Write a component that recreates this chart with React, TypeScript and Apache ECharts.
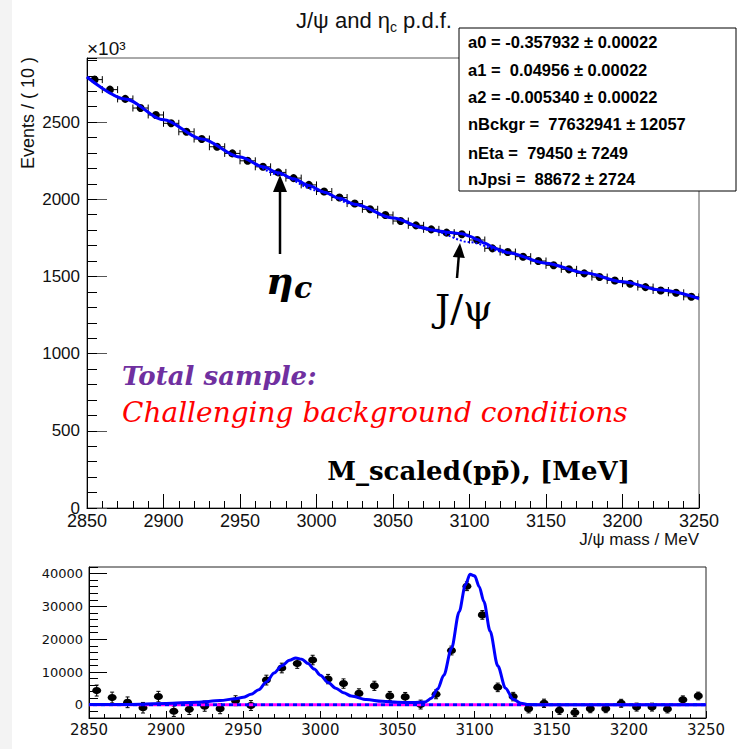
import { useEffect, useRef } from 'react';
import * as echarts from 'echarts';

// Bin centres of the 10 MeV mass histogram
const massBins = [
  2855, 2865, 2875, 2885, 2895, 2905, 2915, 2925, 2935, 2945,
  2955, 2965, 2975, 2985, 2995, 3005, 3015, 3025, 3035, 3045,
  3055, 3065, 3075, 3085, 3095, 3105, 3115, 3125, 3135, 3145,
  3155, 3165, 3175, 3185, 3195, 3205, 3215, 3225, 3235, 3245,
];

// Events per bin, in units of 10^3
const mainCounts = [
  2775, 2710, 2650, 2591, 2546, 2492, 2437, 2390, 2340, 2297,
  2249, 2210, 2174, 2137, 2093, 2050, 2011, 1972, 1935, 1898,
  1859, 1831, 1805, 1784, 1773, 1736, 1682, 1658, 1628, 1600,
  1572, 1546, 1520, 1496, 1474, 1453, 1431, 1409, 1394, 1368,
];

// Background-subtracted events per bin
const residuals = [
  4360, 2230, 780, -870, 2520, -1940, -1360, -390, -1160, 1260,
  -200, 7550, 11230, 12590, 13660, 7850, 6490, 3490, 5810, 2710,
  2420, 100, 3200, 16560, 36130, 27410, 5330, 2520, -1160, 480,
  -1650, -2320, -1160, -1160, 480, -680, -680, -1260, 1550, 2710,
];

const residualErrors = [
  1670, 1650, 1630, 1610, 1600, 1580, 1560, 1550, 1530, 1520,
  1500, 1490, 1470, 1460, 1450, 1430, 1420, 1400, 1390, 1380,
  1360, 1350, 1340, 1340, 1330, 1320, 1300, 1290, 1280, 1260,
  1250, 1240, 1230, 1220, 1210, 1210, 1200, 1190, 1180, 1170,
];

// Chebychev background component (10^3 events)
const bkgCurve: [number, number][] = [
  [2850, 2792], [2875, 2650], [2900, 2515], [2925, 2390], [2950, 2272],
  [2975, 2160], [3000, 2058], [3025, 1965], [3050, 1878], [3075, 1798],
  [3100, 1722], [3125, 1652], [3150, 1586], [3175, 1524], [3200, 1466],
  [3225, 1412], [3250, 1357],
];

// Total p.d.f. (background + eta_c + J/psi), 10^3 events
const totalCurve: [number, number][] = [
  [2850, 2792], [2875, 2650], [2900, 2515], [2925, 2391], [2950, 2274],
  [2965, 2211], [2975, 2172], [2985, 2133], [2995, 2089], [3005, 2046],
  [3015, 2006], [3025, 1968], [3050, 1879], [3070, 1815], [3075, 1803],
  [3080, 1794], [3085, 1787], [3090, 1782], [3095, 1776], [3100, 1761],
  [3105, 1739], [3110, 1715], [3115, 1691], [3120, 1671], [3125, 1654],
  [3150, 1586], [3175, 1524], [3200, 1466], [3225, 1412], [3250, 1357],
];

// Signal-only p.d.f. shown in the residual panel
const signalCurve: [number, number][] = [
  [2850, 100], [2875, 150], [2900, 450], [2920, 800], [2935, 1300],
  [2945, 1900], [2950, 2300], [2955, 3200], [2960, 4600], [2965, 7000],
  [2970, 9700], [2975, 11900], [2980, 13600], [2984, 14300], [2988, 13900],
  [2992, 12600], [2996, 10900], [3000, 9000], [3005, 6800], [3010, 5100],
  [3015, 3700], [3020, 2700], [3030, 1600], [3040, 1100], [3050, 800],
  [3060, 700], [3068, 900], [3072, 2000], [3076, 4800], [3080, 9000],
  [3085, 17200], [3090, 28400], [3094, 36500], [3097, 39800], [3100, 39300],
  [3103, 36000], [3106, 31500], [3110, 22500], [3115, 11900], [3120, 5100],
  [3125, 1700], [3130, 500], [3135, 100], [3145, 0], [3250, 0],
];

const zeroLine: [number, number][] = [[2850, 0], [3250, 0]];

const fitParams = [
  'a0 = -0.357932 ± 0.00022',
  'a1 =  0.04956 ± 0.00022',
  'a2 = -0.005340 ± 0.00022',
  'nBckgr =  77632941 ± 12057',
  'nEta =  79450 ± 7249',
  'nJpsi =  88672 ± 2724',
];

const BIN_HALF_WIDTH = 5;
const SANS = 'Liberation Sans';
const BLUE = '#0000ff';

const statRowY = [42, 70, 97, 124, 153, 179];

const plain = (v: number) => String(v);

export default function App() {
  const ref = useRef<HTMLDivElement>(null);

  useEffect(() => {
    const chart = echarts.init(ref.current!, null, { renderer: 'svg' });

    const axisBase = {
      type: 'value' as const,
      splitLine: { show: false },
      axisLine: { show: true, onZero: false, lineStyle: { color: '#000', width: 1 } },
    };

    const option: any = {
      animation: false,
      backgroundColor: '#ffffff',
      grid: [
        { left: 87, top: 58, width: 612, height: 450, show: true, borderColor: '#555', borderWidth: 1, backgroundColor: 'transparent' },
        { left: 89, top: 567, width: 617, height: 151, show: true, borderColor: '#222', borderWidth: 1, backgroundColor: 'transparent' },
      ],
      xAxis: [
        {
          ...axisBase, gridIndex: 0, min: 2850, max: 3250, interval: 50,
          axisTick: { show: true, inside: true, length: 14, lineStyle: { color: '#000' } },
          minorTick: { show: true, splitNumber: 5, length: 7, lineStyle: { color: '#000' } },
          axisLabel: { fontSize: 18, fontFamily: SANS, color: '#111', margin: 4, formatter: plain },
        },
        {
          ...axisBase, gridIndex: 1, min: 2850, max: 3250, interval: 50,
          axisTick: { show: true, inside: true, length: 7, lineStyle: { color: '#000' } },
          minorTick: { show: true, splitNumber: 5, length: 4, lineStyle: { color: '#000' } },
          axisLabel: { fontSize: 15, fontFamily: 'DejaVu Sans', color: '#111', margin: 4, formatter: plain },
        },
      ],
      yAxis: [
        {
          ...axisBase, gridIndex: 0, position: 'left', min: 0, max: 2915, interval: 500,
          axisTick: { show: true, inside: true, length: 20, lineStyle: { color: '#555' } },
          axisLabel: {
            fontSize: 17, fontFamily: SANS, color: '#111', margin: 7, showMaxLabel: false,
            formatter: (v: number) => (v % 500 === 0 ? String(v) : ''),
          },
        },
        {
          ...axisBase, gridIndex: 0, position: 'left', min: 0, max: 2915, interval: 100,
          axisLine: { show: false },
          axisTick: { show: true, inside: true, length: 10, lineStyle: { color: '#000' } },
          axisLabel: { show: false },
        },
        {
          ...axisBase, gridIndex: 1, position: 'left', min: -4000, max: 42000, splitNumber: 5,
          axisTick: { show: true, inside: true, length: 18, lineStyle: { color: '#000' } },
          axisLabel: {
            fontSize: 13, fontFamily: 'DejaVu Sans', color: '#111', margin: 6,
            showMinLabel: false, showMaxLabel: false,
            formatter: (v: number) => (v % 10000 === 0 ? String(v) : ''),
          },
        },
        {
          ...axisBase, gridIndex: 1, position: 'left', min: -4000, max: 42000, interval: 2000,
          axisLine: { show: false },
          axisTick: { show: true, inside: true, length: 9, lineStyle: { color: '#000' } },
          axisLabel: { show: false },
        },
      ],
      series: [
        {
          type: 'custom', xAxisIndex: 0, yAxisIndex: 0, clip: true,
          data: massBins.map((m, i) => [m, mainCounts[i]]),
          encode: { x: 0, y: 1 },
          renderItem: (_p: any, api: any) => {
            const x = api.value(0);
            const y = api.value(1);
            const c = api.coord([x, y]);
            const l = api.coord([x - BIN_HALF_WIDTH, y]);
            const r = api.coord([x + BIN_HALF_WIDTH, y]);
            const st = { stroke: '#000', lineWidth: 1 };
            return {
              type: 'group',
              children: [
                { type: 'line', shape: { x1: l[0], y1: c[1], x2: r[0], y2: c[1] }, style: st },
                { type: 'line', shape: { x1: l[0], y1: c[1] - 3.5, x2: l[0], y2: c[1] + 3.5 }, style: st },
                { type: 'line', shape: { x1: r[0], y1: c[1] - 3.5, x2: r[0], y2: c[1] + 3.5 }, style: st },
                { type: 'circle', shape: { cx: c[0], cy: c[1], r: 4 }, style: { fill: '#000' } },
              ],
            };
          },
        },
        {
          type: 'line', xAxisIndex: 0, yAxisIndex: 0, data: bkgCurve,
          smooth: 0.3, smoothMonotone: 'x', showSymbol: false, silent: true,
          lineStyle: { color: BLUE, width: 2, type: 'dotted' },
        },
        {
          type: 'line', xAxisIndex: 0, yAxisIndex: 0, data: totalCurve,
          smooth: 0.3, smoothMonotone: 'x', showSymbol: false, silent: true,
          lineStyle: { color: BLUE, width: 3 },
        },
        {
          type: 'line', xAxisIndex: 1, yAxisIndex: 2, data: zeroLine,
          showSymbol: false, silent: true,
          lineStyle: { color: '#ff00ff', width: 3, type: [4, 4] },
        },
        {
          type: 'line', xAxisIndex: 1, yAxisIndex: 2, data: zeroLine,
          showSymbol: false, silent: true,
          lineStyle: { color: BLUE, width: 3, type: [4, 4], dashOffset: 4 },
        },
        {
          type: 'custom', xAxisIndex: 1, yAxisIndex: 2, clip: true,
          data: massBins.map((m, i) => [m, residuals[i], residualErrors[i]]),
          encode: { x: 0, y: 1 },
          renderItem: (_p: any, api: any) => {
            const x = api.value(0);
            const y = api.value(1);
            const e = api.value(2);
            const c = api.coord([x, y]);
            const hi = api.coord([x, y + e]);
            const lo = api.coord([x, y - e]);
            const st = { stroke: '#000', lineWidth: 1 };
            return {
              type: 'group',
              children: [
                { type: 'line', shape: { x1: c[0], y1: hi[1], x2: c[0], y2: lo[1] }, style: st },
                { type: 'line', shape: { x1: c[0] - 2, y1: hi[1], x2: c[0] + 2, y2: hi[1] }, style: st },
                { type: 'line', shape: { x1: c[0] - 2, y1: lo[1], x2: c[0] + 2, y2: lo[1] }, style: st },
                { type: 'ellipse', shape: { cx: c[0], cy: c[1], rx: 4.5, ry: 3.6 }, style: { fill: '#000' } },
              ],
            };
          },
        },
        {
          type: 'line', xAxisIndex: 1, yAxisIndex: 2, data: signalCurve,
          smooth: 0.3, smoothMonotone: 'x', showSymbol: false, silent: true,
          lineStyle: { color: BLUE, width: 3 },
        },
      ],
      graphic: [
        { type: 'rect', z: 0, silent: true, shape: { x: 0, y: 0, width: 12, height: 749 }, style: { fill: '#f3f3f3' } },
        {
          type: 'text', z: 100, x: 374, y: 20,
          style: {
            text: '{n|J/ψ and η}{s|c}{n| p.d.f.}',
            textAlign: 'center', textVerticalAlign: 'middle',
            rich: {
              n: { fontSize: 22, fontFamily: SANS, fill: '#111' },
              s: { fontSize: 14, fontFamily: SANS, fill: '#111', padding: [13, 0, 0, 0] },
            },
          },
        },
        {
          type: 'text', z: 100, x: 87, y: 48,
          style: { text: '×10³', font: '19px "Liberation Sans"', fill: '#111', textAlign: 'left', textVerticalAlign: 'middle' },
        },
        {
          type: 'text', z: 100, x: 28, y: 57, rotation: Math.PI / 2,
          style: { text: 'Events / ( 10 )', font: '18px "Liberation Sans"', fill: '#111', textAlign: 'right', textVerticalAlign: 'middle' },
        },
        {
          type: 'text', z: 100, x: 699, y: 539,
          style: { text: 'J/ψ mass / MeV', font: '17px "Liberation Sans"', fill: '#111', textAlign: 'right', textVerticalAlign: 'middle' },
        },
        // fit parameter box
        {
          type: 'rect', z: 100, shape: { x: 459, y: 28, width: 277, height: 163 },
          style: { fill: '#fff', stroke: '#000', lineWidth: 1 },
        },
        ...fitParams.map((t, i) => ({
          type: 'text', z: 101, x: 468, y: statRowY[i],
          style: { text: t, font: 'bold 16.5px "Liberation Sans"', fill: '#000', textAlign: 'left', textVerticalAlign: 'middle' },
        })),
        // eta_c marker
        { type: 'line', z: 100, shape: { x1: 280, y1: 254, x2: 280, y2: 188 }, style: { stroke: '#000', lineWidth: 2.5 } },
        { type: 'polygon', z: 100, shape: { points: [[280, 175], [273, 192], [287, 192]] }, style: { fill: '#000' } },
        {
          type: 'text', z: 100, x: 266, y: 280,
          style: { text: 'η', font: 'italic bold 38px "DejaVu Serif"', fill: '#000', textAlign: 'left', textVerticalAlign: 'middle' },
        },
        {
          type: 'text', z: 100, x: 294, y: 287,
          style: { text: 'c', font: 'italic bold 30px "DejaVu Serif"', fill: '#000', textAlign: 'left', textVerticalAlign: 'middle' },
        },
        // J/psi marker
        { type: 'line', z: 100, shape: { x1: 457, y1: 278, x2: 458.8, y2: 256 }, style: { stroke: '#000', lineWidth: 2.5 } },
        { type: 'polygon', z: 100, shape: { points: [[460, 243], [452.8, 257], [464.8, 258]] }, style: { fill: '#000' } },
        {
          type: 'text', z: 100, x: 464, y: 308,
          style: { text: 'J/ψ', font: '38px "DejaVu Serif"', fill: '#000', textAlign: 'center', textVerticalAlign: 'middle' },
        },
        // annotations
        {
          type: 'text', z: 100, x: 122, y: 376,
          style: { text: 'Total sample:', font: 'italic bold 26px "DejaVu Serif"', fill: '#7030a0', textAlign: 'left', textVerticalAlign: 'middle' },
        },
        {
          type: 'text', z: 100, x: 122, y: 412,
          style: { text: 'Challenging background conditions', font: 'italic 28px "DejaVu Serif"', fill: '#ff0000', textAlign: 'left', textVerticalAlign: 'middle' },
        },
        {
          type: 'text', z: 100, x: 630, y: 471,
          style: { text: 'M_scaled(pp̄), [MeV]', font: 'bold 26px "DejaVu Serif"', fill: '#000', textAlign: 'right', textVerticalAlign: 'middle' },
        },
      ],
    };

    chart.setOption(option);
    return () => chart.dispose();
  }, []);

  return (
    <div
      ref={ref}
      style={{ position: 'fixed', left: 0, top: 0, width: 737, height: 749, background: '#fff' }}
    />
  );
}
